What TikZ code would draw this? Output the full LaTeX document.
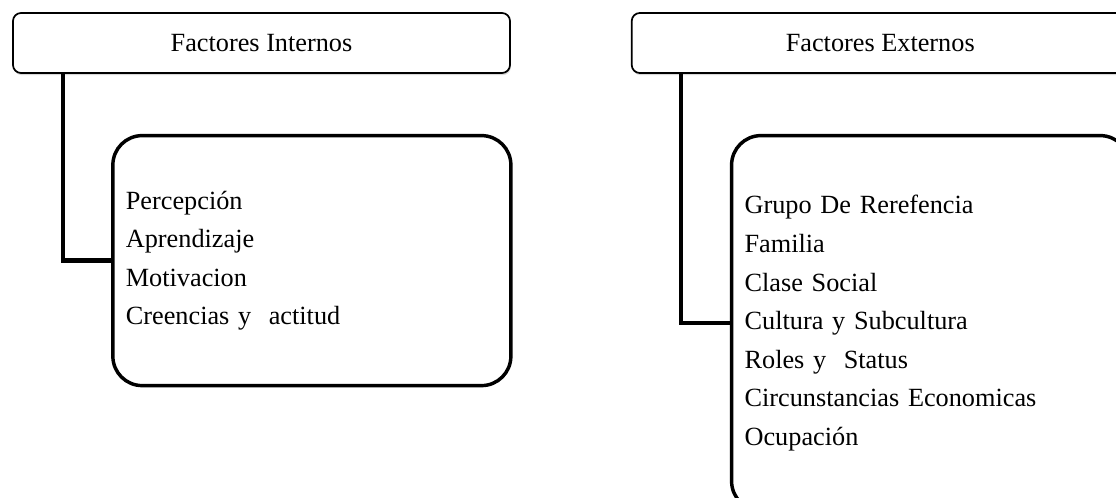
\documentclass[tikz,border=0pt]{standalone}
\usepackage{fontspec}
\setmainfont{Liberation Serif}
\usepackage{tikz}
\usetikzlibrary{positioning,shadows}
\tikzstyle{header} = [rectangle, draw, line width=1.3pt, rounded corners=6pt, fill=white, minimum width=372.75pt, minimum height=45pt, text centered, font=\fontsize{19.7pt}{28.9pt}\selectfont, drop shadow={shadow xshift=0.6pt, shadow yshift=-1.6pt, opacity=0.3}]
\tikzstyle{listbox} = [rectangle, draw, line width=2.6pt, rounded corners=22pt, text width=279pt, inner xsep=9.75pt, align=left, font=\fontsize{19.7pt}{28.9pt}\selectfont]
\tikzstyle{tedge}  = [draw, line width=3.5pt, line join=miter]

\begin{document}
\begin{tikzpicture}[x=0.75pt, y=-0.75pt]
\useasboundingbox (0,0) rectangle (1116,497);
\clip (0,0) rectangle (1116,497);

% headers
\node[header] (hint) at (261.5,43) {Factores Internos};
\node[header, right=90pt of hint] (hext) {Factores Externos};

% factor lists
\node[listbox, minimum height=187.5pt, below right=45pt and 74.25pt of hint.south west] (lint) {Percepción\\Aprendizaje\\Motivacion\\Creencias y~ actitud};
\node[listbox, minimum height=281.25pt, below right=45pt and 74.25pt of hext.south west] (lext) {Grupo De Rerefencia\\Familia\\Clase Social\\Cultura y Subcultura\\Roles y~ Status\\Circunstancias Economicas\\Ocupación};

% edges header to list
\path[tedge] ([xshift=38.25pt]hint.south west) |- (lint.west);
\path[tedge] ([xshift=37.5pt]hext.south west) |- (lext.west);

\end{tikzpicture}
\end{document}
